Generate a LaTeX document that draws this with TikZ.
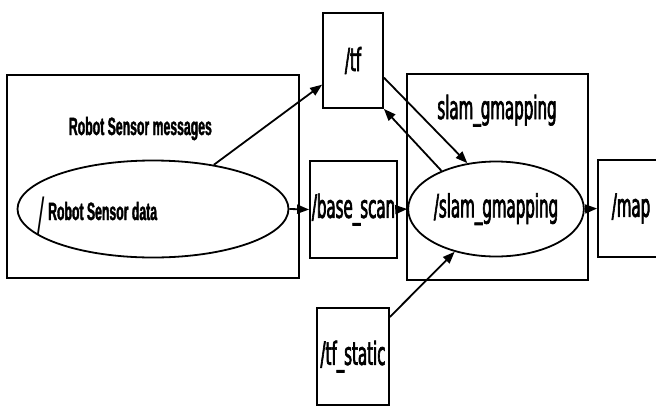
\documentclass[tikz,border=0pt]{standalone}
\usepackage{fontspec}
\usepackage{tikz}
\usetikzlibrary{arrows.meta}
\usetikzlibrary{shapes.geometric}
\usetikzlibrary{positioning}
\newfontfamily\graphfont[FakeStretch=0.47,FakeBold=2]{DejaVu Sans}
\newfontfamily\slashfont[FakeStretch=0.47]{DejaVu Sans}
\newfontfamily\userfont[FakeStretch=0.49,FakeBold=1.5]{Liberation Sans}

\begin{document}
\begin{tikzpicture}
			[x=1pt,y=-1pt,line width=1.8pt,>={Triangle[length=12pt,width=9pt]},
			every node/.style={inner sep=0pt,font=\graphfont\fontsize{32}{32}\selectfont},
			topic/.style={draw,rectangle},
			cluster/.style={draw,rectangle},
			nodeell/.style={draw,ellipse}]
			\clip (0,0) rectangle (656,407);
			% clusters
			\node[cluster,minimum width=292pt,minimum height=203pt] (robotbox) at (153,176.5) {};
			\node[cluster,minimum width=181pt,minimum height=206pt] (slambox) at (497.5,177) {};
			\node[anchor=base west,font=\userfont\bfseries\fontsize{25}{25}\selectfont] (robotlbl) at (68,135) {Robot Sensor messages};
			\node[anchor=base] (slamlbl) at (497,119) {slam\_gmapping};
			% nodes
			\node[nodeell,minimum width=271pt,minimum height=97pt] (robotdata) at (153,209) {};
			\node[anchor=base west] (robotdatatxt) at (37,220)
				{\raisebox{-10pt}{\slashfont\fontsize{46}{46}\selectfont/}\hspace{3pt}{\userfont\bfseries\fontsize{25}{25}\selectfont Robot Sensor data}};
			\node[nodeell,minimum width=163pt,minimum height=95pt] (slamnode) at (496,209) {/slam\_gmapping};
			% topics
			\node[topic,minimum width=60pt,minimum height=95pt] (tf) at (353,60.5) {/tf};
			\node[topic,minimum width=87pt,minimum height=97pt] (basescan) at (353.5,209.5) {/base\_scan};
			\node[topic,minimum width=66pt,minimum height=97pt] (map) at (631,208.5) {/map};
			\node[topic,minimum width=72pt,minimum height=97pt] (tfstatic) at (353,356.5) {/tf\_static};
			
			\foreach \from/\to in
			{robotdata.36/tf.218, robotdata.east/basescan.west, basescan.east/slamnode.west,
			 slamnode.east/map.west, tf.331/slamnode.122, slamnode.145/tf.south east,
			 tfstatic.47/slamnode.226}
			\draw[->] (\from) -- (\to);
			\end{tikzpicture}
\end{document}
